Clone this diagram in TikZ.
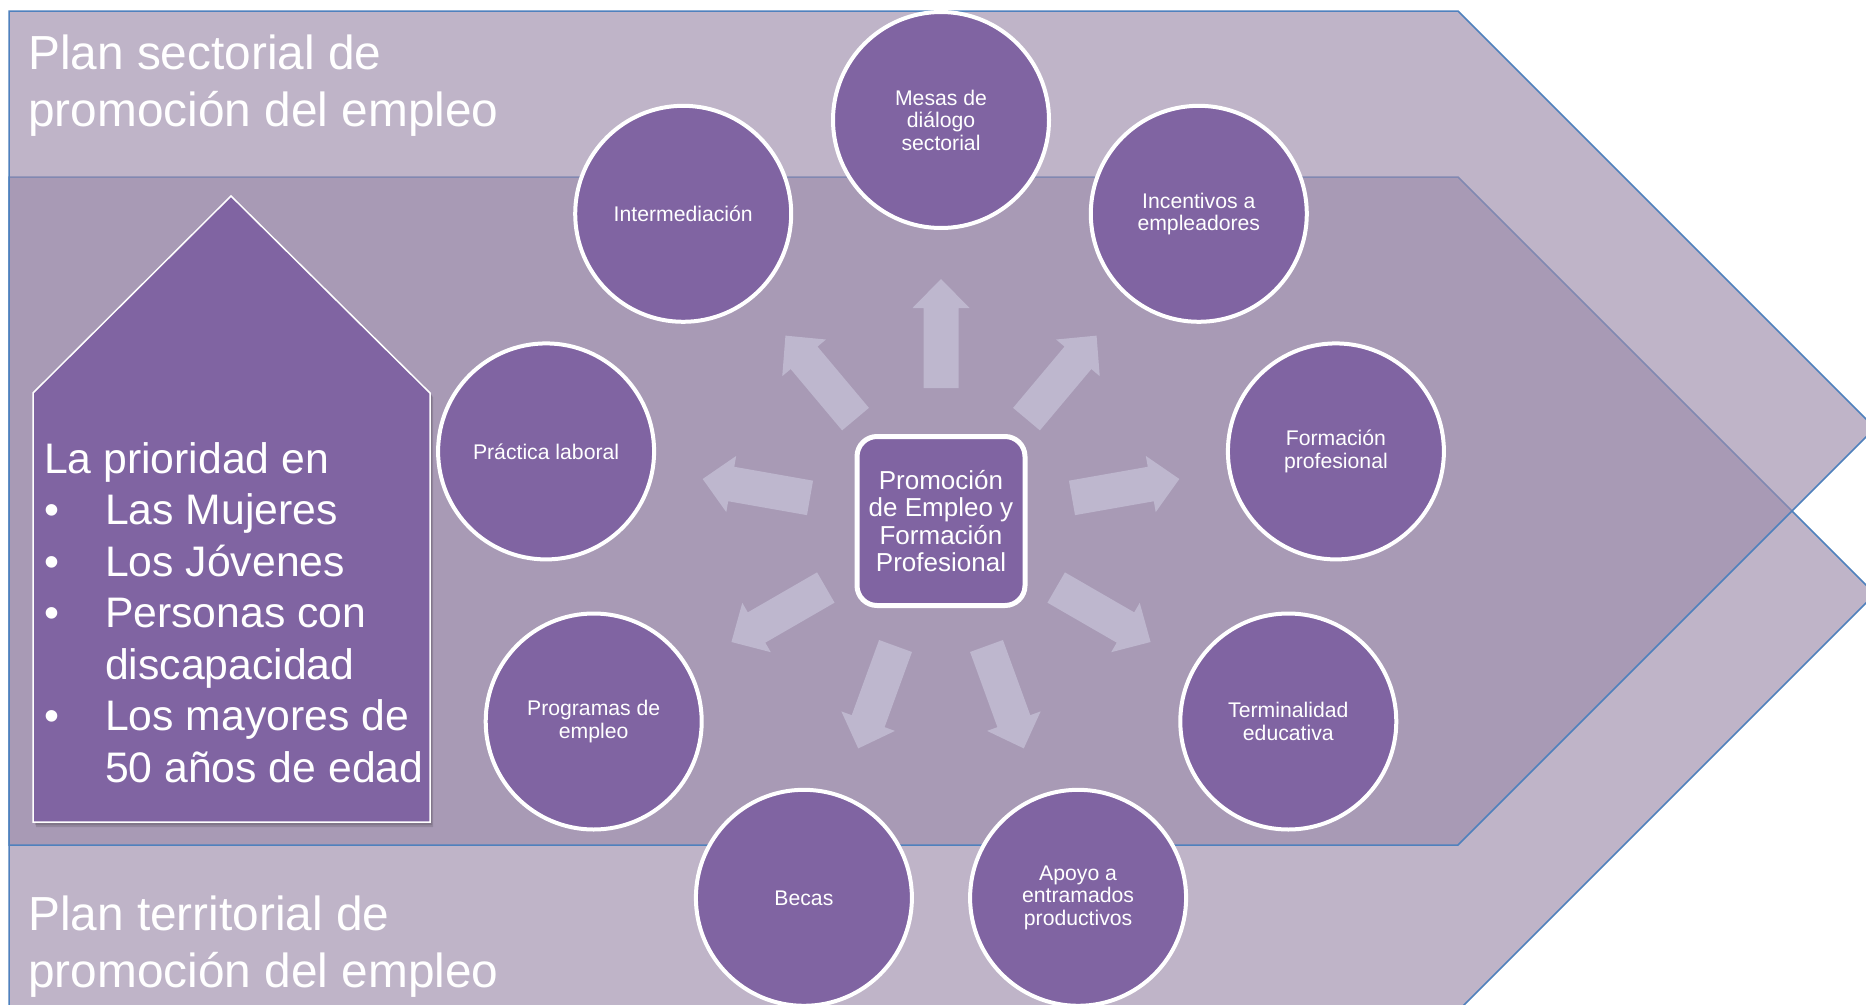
\documentclass[tikz,border=0pt]{standalone}
\usepackage{fontspec}
\setmainfont{Liberation Sans}
\definecolor{purp}{RGB}{128,100,162}
\definecolor{chev}{RGB}{157,141,172}
\definecolor{edgeblue}{RGB}{79,129,189}
\definecolor{arr}{RGB}{190,183,206}
\begin{document}
\begin{tikzpicture}[x=1pt,y=-1pt,
  chevron/.style={fill=chev, fill opacity=0.65, draw=edgeblue, line width=1.5pt, line join=miter},
  bubble/.style={circle, fill=purp, draw=white, line width=4pt, minimum size=216pt, inner sep=0pt, text=white, align=center, font=\fontsize{21.2}{22.5}\selectfont},
  hub/.style={rectangle, rounded corners=20pt, fill=purp, draw=white, line width=5pt, minimum width=168pt, minimum height=169pt, inner sep=0pt, text=white, align=center, font=\fontsize{26}{27.5}\selectfont},
  ray/.style={fill=arr, draw=none},
  title/.style={text=white, anchor=base west, inner sep=0pt, font=\fontsize{47.8}{57}\selectfont},
  housebox/.style={fill=purp, draw=white, line width=1.5pt},
  htext/.style={text=white, anchor=base west, inner sep=0pt, font=\fontsize{42.7}{51.5}\selectfont}
]
\fill[white] (0,0) rectangle (1866,1004);
\useasboundingbox (0,0) rectangle (1866,1004);
\clip (0,0) rectangle (1866,1004);

% overlapping chevrons
\path[chevron] (9,177) -- (1458,177) -- (1875,594) -- (1458,1011) -- (9,1011) -- cycle;
\path[chevron] (9,11) -- (1458,11) -- (1875,428) -- (1458,845) -- (9,845) -- cycle;

% titles
\node[title] (t1) at (28,69) {Plan sectorial de};
\node[title] (t2) at (28,126) {promoción del empleo};
\node[title] (t3) at (28,930) {Plan territorial de};
\node[title] (t4) at (28,987) {promoción del empleo};

% house shape with shadow
\fill[black, opacity=0.12] (36,397) -- (234,200) -- (433,397) -- (433,827) -- (36,827) -- cycle;
\fill[black, opacity=0.12] (35,395) -- (233,198) -- (432,395) -- (432,825) -- (35,825) -- cycle;
\path[housebox] (33,393) -- (231,196) -- (430,393) -- (430,822) -- (33,822) -- cycle;
\node[htext] (h0) at (44,473) {La prioridad en};
\node[htext] (b1) at (44,524.5) {•};
\node[htext] (h1) at (105,524.5) {Las Mujeres};
\node[htext] (b2) at (44,576) {•};
\node[htext] (h2) at (105,576) {Los Jóvenes};
\node[htext] (b3) at (44,627.5) {•};
\node[htext] (h3) at (105,627.5) {Personas con};
\node[htext] (h4) at (105,679) {discapacidad};
\node[htext] (b4) at (44,730.5) {•};
\node[htext] (h5) at (105,730.5) {Los mayores de};
\node[htext] (h6) at (105,782) {50 años de edad};

% radiating block arrows
\foreach \a in {90,50,10,-30,-70,-110,-150,170,130}{
  \fill[ray, shift={(941,521)}, rotate=\a]
    (133,-17.5) -- (213,-17.5) -- (213,-28.5) -- (242,0) -- (213,28.5) -- (213,17.5) -- (133,17.5) -- cycle;
}

% hub
\node[hub] (hub) at (941,521) {Promoción\\de Empleo y\\Formación\\Profesional};

% circles
\node[bubble] (c1) at (941,120) {Mesas de\\diálogo\\sectorial};
\node[bubble] (c2) at (1198.8,213.8) {Incentivos a\\empleadores};
\node[bubble] (c3) at (1335.9,451.4) {Formación\\profesional};
\node[bubble] (c4) at (1288.3,721.5) {Terminalidad\\educativa};
\node[bubble] (c5) at (1078.1,897.8) {Apoyo a\\entramados\\productivos};
\node[bubble] (c6) at (803.9,897.8) {Becas};
\node[bubble] (c7) at (593.7,721.5) {Programas de\\empleo};
\node[bubble] (c8) at (546.1,451.4) {Práctica laboral};
\node[bubble] (c9) at (683.2,213.8) {Intermediación};
\end{tikzpicture}
\end{document}
